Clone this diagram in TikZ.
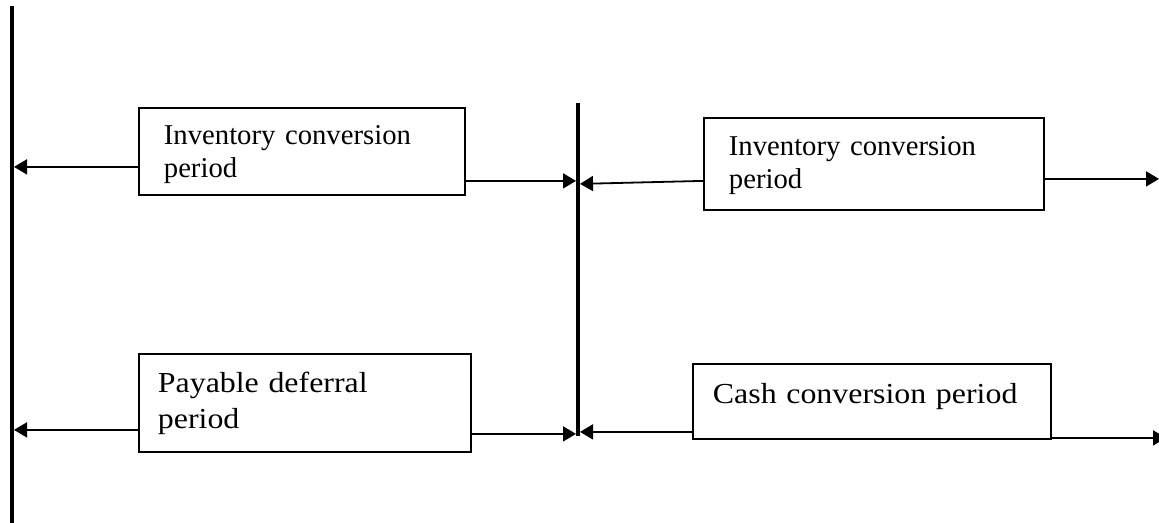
\documentclass[tikz,border=0pt]{standalone}
\usepackage{fontspec}
\setmainfont{Liberation Serif}
\newfontfamily\widefont[FakeStretch=1.1]{Liberation Serif}
\usetikzlibrary{arrows.meta, positioning}
\tikzstyle{period} = [rectangle, draw, line width=1.8pt, anchor=north west, align=left, inner ysep=0pt, font=\fontsize{28.7}{33}\selectfont]
\tikzstyle{bigperiod} = [period, font=\widefont\fontsize{29}{36}\selectfont]
\tikzstyle{reg} = [-{Triangle[length=13pt, width=15pt]}, line width=1.8pt]
\tikzstyle{timeline} = [line width=4pt]

\begin{document}
\begin{tikzpicture}[x=1pt, y=-1pt]
  \useasboundingbox (0,0) rectangle (1159,522);

  % Time lines
  \coordinate (Ltop) at (12,6);
  \coordinate (Lbot) at (12,524);
  \coordinate (Mtop) at (578,103);
  \coordinate (Mbot) at (578,436);
  \coordinate (Rend) at (1159,0);
  \coordinate (Rcut) at (1166,0);
  \draw[timeline] (Ltop) -- (Lbot);
  \draw[timeline] (Mtop) -- (Mbot);

  % Periods
  \node[period, text width=276pt, inner xsep=25pt, text height=37pt, text depth=50pt] (icp1) at (138,107) {Inventory conversion\\period};
  \node[period, text width=290pt, inner xsep=25pt, text height=38pt, text depth=54pt] (icp2) at (703,117) {Inventory conversion\\period};
  \node[bigperiod, text width=294pt, inner xsep=19pt, text height=39pt, text depth=59pt] (pdp) at (138,353) {Payable deferral\\period};
  \node[bigperiod, text width=318pt, inner xsep=20pt, text height=40pt, text depth=35pt] (ccp) at (692,363) {Cash conversion period};

  % Arrows of the first cycle
  \draw[reg] ([yshift=-15.5pt]icp1.west) coordinate (a1) -- ([xshift=2pt]Ltop |- a1);
  \draw[reg] ([yshift=-29.5pt]icp1.east) coordinate (a2) -- ([xshift=-2pt]Mtop |- a2);
  \draw[reg] ([yshift=-27pt]pdp.west) coordinate (a3) -- ([xshift=2pt]Ltop |- a3);
  \draw[reg] ([yshift=-31pt]pdp.east) coordinate (a4) -- ([xshift=-2pt]Mtop |- a4);

  % Arrows of the second cycle
  \draw[reg] ([yshift=-17pt]icp2.west) -- ([xshift=2pt, yshift=-20pt]Mtop |- icp2.west);
  \draw[reg] ([yshift=-15pt]icp2.east) coordinate (b2) -- (Rend |- b2);
  \draw[reg] ([yshift=-30.5pt]ccp.west) coordinate (b3) -- ([xshift=2pt]Mtop |- b3);
  \draw[reg] ([yshift=-36.5pt]ccp.east) coordinate (b4) -- (Rcut |- b4);
\end{tikzpicture}
\end{document}
